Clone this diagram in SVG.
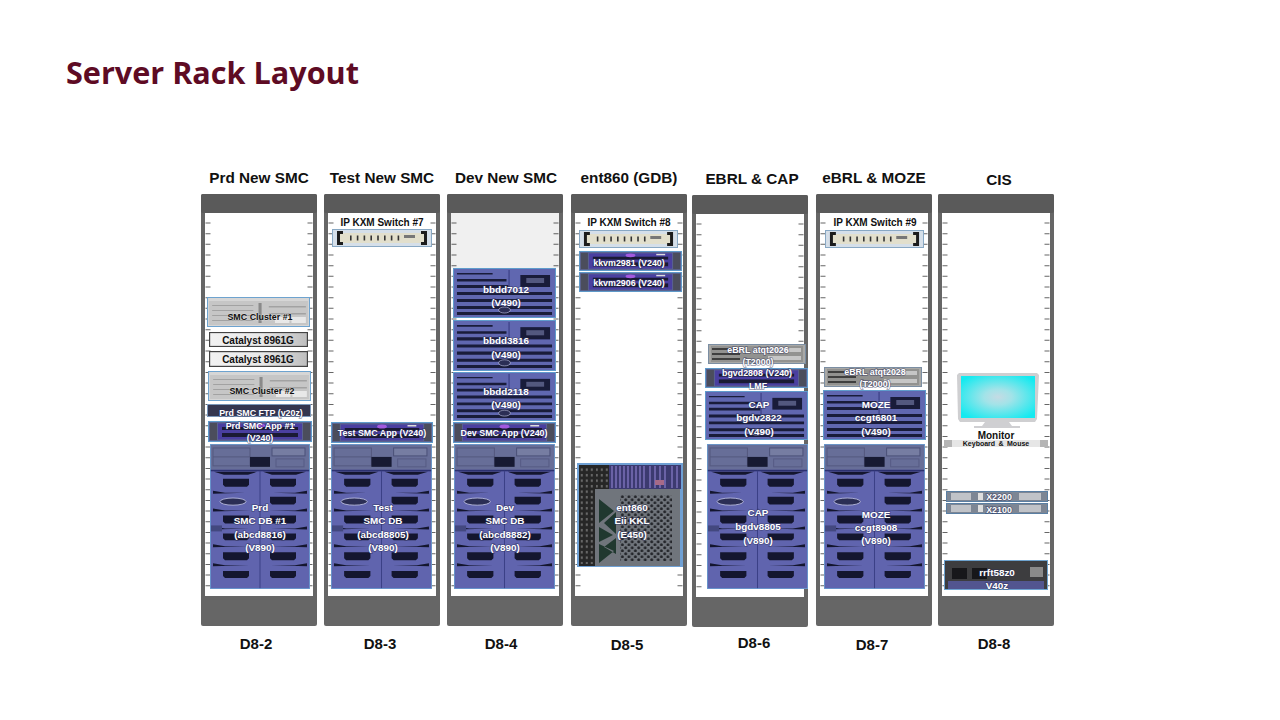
<svg xmlns="http://www.w3.org/2000/svg" width="1280" height="720" viewBox="0 0 1280 720">
<style>
text{font-family:"Liberation Sans",Arial,sans-serif;font-weight:700;text-anchor:middle}
.title{font-family:"Open Sans","Noto Sans",sans-serif;font-size:30.6px;fill:#5e0b24;text-anchor:start}
.hd{font-size:15.3px;fill:#111}
.loc{font-size:15px;fill:#111}
.w{font-size:9.9px;fill:#fff;stroke:#2b2e55;stroke-opacity:.5;stroke-width:1.5px;paint-order:stroke}
.s{font-size:8.9px}
.k{font-size:10px;fill:#111}
.g{font-size:8.9px;fill:#111;stroke:#fff;stroke-opacity:.35;stroke-width:1px;paint-order:stroke}
</style>
<defs>
<pattern id="holes" width="6.5" height="6" patternUnits="userSpaceOnUse"><circle cx="1.7" cy="1.7" r="1.5" fill="#25272c"/><circle cx="4.9" cy="4.7" r="1.5" fill="#25272c"/></pattern>
<pattern id="vents" width="5" height="5.5" patternUnits="userSpaceOnUse"><rect x=".8" y="1" width="2" height="2.4" fill="#6a6a6a"/></pattern>
<radialGradient id="scr" cx=".5" cy=".5" r=".62"><stop offset="0" stop-color="#c4dbe4"/><stop offset=".3" stop-color="#a2e3e8"/><stop offset="1" stop-color="#14eaf0"/></radialGradient>
<linearGradient id="catg" x1="0" x2="1" y1="0" y2="0"><stop offset="0" stop-color="#f2f2f2"/><stop offset=".55" stop-color="#e8e8e8"/><stop offset="1" stop-color="#bdbdbd"/></linearGradient>
<symbol id="rack" viewBox="0 0 116 432" preserveAspectRatio="none">
<rect width="116" height="432" rx="2" fill="#666"/>
<rect width="116" height="19" rx="2" fill="#5a5a5a"/>
<rect x="4" y="19" width="108" height="383" fill="#fff"/>
<line x1="7" y1="28.5" x2="7" y2="396" stroke="#666" stroke-width="5" stroke-dasharray="1 9.67"/>
<line x1="109" y1="28.5" x2="109" y2="396" stroke="#666" stroke-width="5" stroke-dasharray="1 9.67"/>
</symbol>
<symbol id="v890" viewBox="0 0 100 146" preserveAspectRatio="none">
<rect width="100" height="146" fill="#6064ae"/>
<rect width="100" height="26" fill="#676e98"/>
<rect x="3" y="4" width="37" height="18" fill="none" stroke="#54597f"/>
<rect x="3" y="12.5" width="37" height="1" fill="#54597f"/>
<rect x="62" y="4" width="33" height="8" fill="#767da2" stroke="#4b5078"/>
<rect x="40" y="13" width="20" height="10" fill="#171a33"/>
<rect x="66" y="15" width="28" height="8" fill="none" stroke="#565b84"/>
<rect y="26" width="100" height="1.5" fill="#2c3170"/>
<rect x="49.5" y="27" width="1" height="119" fill="#3b4086"/>
<g fill="#14162f">
<path d="M13 35h26v6l-2 2H15l-2-2zM60 35h26v6l-2 2H62l-2-2zM60 53h26v6l-2 2H62l-2-2zM13 72h26v6l-2 2H15l-2-2zM60 72h26v6l-2 2H62l-2-2zM13 90h26v5l-2 2H15l-2-2zM60 90h26v5l-2 2H62l-2-2zM13 109h26v6l-2 2H15l-2-2zM60 109h26v6l-2 2H62l-2-2zM13 128h26v5l-2 2H15l-2-2zM60 128h26v5l-2 2H62l-2-2z"/>
<path d="M4 28l10 3h24l9-3zM53 28l9 3h24l10-3zM3 47l12 2h20l-32 1zM97 47l-12 2h-22l34 1zM3 65l12 2h26l-38 1zM97 65l-12 2h-26l38 1zM3 83l12 2h24l-36 1zM97 83l-12 2h-24l36 1zM3 101l12 2h24l-36 1zM97 101l-12 2h-24l36 1zM3 120l12 2h24l-36 1zM97 120l-12 2h-24l36 1z"/>
</g>
<ellipse cx="23" cy="58" rx="13" ry="3.6" fill="#2b2e55" stroke="#c5c8e8" stroke-width=".8"/>
<rect x="1" y="82" width="11" height="6" fill="#43487f"/>
<rect x=".4" y=".4" width="99.2" height="145.2" fill="none" stroke="#6b9fd2" stroke-width=".8"/>
</symbol>
<symbol id="v490" viewBox="0 0 104 50" preserveAspectRatio="none">
<rect width="104" height="50" fill="#6067b0"/>
<g fill="#191c3a">
<path d="M4 5h36v1.5H4zM4 11h50v2.5H4zM4 17h52v3H4zM4 24h96v3H4zM4 31h96v3H4zM4 38h96v3H4zM4 44h96v3H4z"/>
<rect x="68" y="7" width="30" height="12"/>
</g>
<rect x="74" y="10" width="18" height="5" fill="#53587f"/>
<rect x="56" y="2" width="1.2" height="22" fill="#3b4086"/>
<ellipse cx="52" cy="42" rx="6" ry="3" fill="#2b2e55" stroke="#c5c8e8" stroke-width=".6"/>
<rect x=".5" y=".5" width="103" height="49" fill="none" stroke="#5f9ccc"/>
</symbol>
<symbol id="v240" viewBox="0 0 104 21" preserveAspectRatio="none">
<rect width="104" height="21" fill="#5a6390"/>
<rect x="2" y="2" width="7" height="17" fill="#4b4d5c"/>
<rect x="95" y="2" width="7" height="17" fill="#4b4d5c"/>
<rect x="10" y="2.5" width="84" height="16" fill="#4a3fa0"/>
<rect x="14" y="6" width="76" height="3" fill="#1a1a34"/>
<rect x="14" y="12" width="76" height="4" fill="#1a1a34"/>
<ellipse cx="52" cy="4.5" rx="5" ry="2" fill="#a25adf"/>
<rect x="78" y="3" width="9" height="1.5" fill="#ddd"/>
<rect x=".5" y=".5" width="103" height="20" fill="none" stroke="#5f9ccc"/>
</symbol>
<symbol id="srv" viewBox="0 0 100 30" preserveAspectRatio="none">
<rect width="100" height="30" fill="#d6d6d6"/>
<rect x="2" y="4" width="96" height="24" fill="#c6c6c6"/>
<g fill="#a2a2a2"><rect x="5" y="8" width="40" height="1"/><rect x="5" y="13" width="40" height="1"/><rect x="5" y="18" width="40" height="1"/><rect x="5" y="23" width="40" height="1"/><rect x="60" y="9" width="36" height="1.5"/><rect x="60" y="16" width="36" height="1.5"/></g>
<g fill="#e8e8e8"><rect x="66" y="20" width="14" height="6"/><rect x="82" y="20" width="14" height="6"/></g>
<rect x="50" y="6" width="3" height="20" fill="#8a8a8a"/>
<rect x=".5" y=".5" width="99" height="29" fill="none" stroke="#6ea3cf"/>
</symbol>
<symbol id="t2k" viewBox="0 0 98 20" preserveAspectRatio="none">
<rect width="98" height="20" fill="#a8a8a6"/>
<rect x="3" y="2" width="92" height="16" fill="#929290"/>
<g fill="#3f3f3f"><rect x="4" y="4" width="28" height="2"/><rect x="4" y="9" width="28" height="2"/><rect x="4" y="14" width="28" height="2"/></g>
<g fill="#c6c6c6"><rect x="60" y="4" width="33" height="4"/><rect x="60" y="12" width="33" height="4"/></g>
<rect x=".5" y=".5" width="97" height="19" fill="none" stroke="#7b8ea3"/>
</symbol>
<symbol id="kvm" viewBox="0 0 100 18" preserveAspectRatio="none">
<rect width="100" height="18" fill="#d5dfe9"/>
<rect x="6" y="4" width="88" height="10" fill="#e2dfcc"/>
<path d="M11 3.5H6.5V14.5H11M89 3.5h4.5V14.5H89" fill="none" stroke="#1c1c1c" stroke-width="3"/>
<line x1="18" y1="9" x2="68" y2="9" stroke="#333" stroke-width="5" stroke-dasharray="1.6 5.2"/>
<rect x="72" y="6" width="11" height="3" fill="#777"/>
<rect x=".5" y=".5" width="99" height="17" fill="none" stroke="#88a8c4"/>
</symbol>
<symbol id="cat" viewBox="0 0 100 16" preserveAspectRatio="none">
<rect width="100" height="16" fill="url(#catg)"/>
<rect x=".6" y=".6" width="98.8" height="14.8" fill="none" stroke="#444" stroke-width="1.2"/>
</symbol>
<symbol id="x2" viewBox="0 0 102 11" preserveAspectRatio="none">
<rect width="102" height="11" fill="#7d8694"/>
<rect x="5" y="2" width="20" height="7" fill="#c0c3c8"/>
<rect x="73" y="2" width="22" height="7" fill="#c0c3c8"/>
<rect x="32" y="2" width="5" height="7" fill="#dedede"/>
<rect x=".5" y=".5" width="101" height="10" fill="none" stroke="#5a7fa3"/>
</symbol>
</defs>
<rect width="1280" height="720" fill="#fff"/>
<text class="title" x="66" y="84">Server Rack Layout</text>

<g id="rack-d8-2">
<text class="hd" x="259" y="183">Prd New SMC</text>
<use href="#rack" x="201" y="194" width="116" height="432"/>
<text class="loc" x="256" y="649">D8-2</text>
</g>
<g id="rack-d8-3">
<text class="hd" x="382" y="183">Test New SMC</text>
<use href="#rack" x="324" y="194" width="116" height="432"/>
<text class="loc" x="380" y="649">D8-3</text>
</g>
<g id="rack-d8-4">
<text class="hd" x="506" y="183">Dev New SMC</text>
<use href="#rack" x="447" y="194" width="116" height="432"/>
<rect x="451" y="213" width="108" height="55" fill="#000" fill-opacity=".06"/>
<text class="loc" x="501" y="649">D8-4</text>
</g>
<g id="rack-d8-5">
<text class="hd" x="629" y="183">ent860 (GDB)</text>
<use href="#rack" x="571" y="194" width="116" height="432"/>
<text class="loc" x="627" y="650">D8-5</text>
</g>
<g id="rack-d8-6">
<text class="hd" x="752" y="184">EBRL &amp; CAP</text>
<use href="#rack" x="692" y="195" width="116" height="432"/>
<text class="loc" x="754" y="648">D8-6</text>
</g>
<g id="rack-d8-7">
<text class="hd" x="874" y="183">eBRL &amp; MOZE</text>
<use href="#rack" x="816" y="194" width="116" height="432"/>
<text class="loc" x="872" y="650">D8-7</text>
</g>
<g id="rack-d8-8">
<text class="hd" x="999" y="185">CIS</text>
<use href="#rack" x="938" y="194" width="116" height="432"/>
<text class="loc" x="994" y="649">D8-8</text>
</g>

<g id="smc-cluster-1"><use href="#srv" x="207" y="297" width="103" height="30"/><text class="g" x="260" y="320">SMC Cluster #1</text></g>
<g id="catalyst-1"><use href="#cat" x="209" y="332" width="99" height="15"/><text class="k" x="258" y="344">Catalyst 8961G</text></g>
<g id="catalyst-2"><use href="#cat" x="209" y="351" width="99" height="16"/><text class="k" x="258" y="363">Catalyst 8961G</text></g>
<g id="smc-cluster-2"><use href="#srv" x="208" y="371" width="103" height="30"/><text class="g" x="262" y="394">SMC Cluster #2</text></g>
<g id="prd-smc-ftp"><rect x="207.5" y="404.5" width="103" height="12" fill="#34364f" stroke="#7a97ba"/><text class="w s" x="261" y="416">Prd SMC FTP (v20z)</text></g>
<g id="prd-smc-app"><use href="#v240" x="208" y="421" width="104" height="21"/><text class="w s" x="260" y="429">Prd SMC App #1</text><text class="w s" x="260" y="441">(V240)</text></g>
<g id="prd-smc-db"><use href="#v890" x="210" y="444" width="100" height="145"/><text class="w" x="260" y="511">Prd</text><text class="w" x="260" y="524">SMC DB #1</text><text class="w" x="260" y="538">(abcd8816)</text><text class="w" x="260" y="551">(V890)</text></g>

<g id="kvm-switch-7"><text class="k" x="382" y="226">IP KXM Switch #7</text><use href="#kvm" x="332" y="229" width="100" height="18"/></g>
<g id="test-smc-app"><use href="#v240" x="331" y="422" width="102" height="21"/><text class="w s" x="382" y="436">Test SMC App (V240)</text></g>
<g id="test-smc-db"><use href="#v890" x="331" y="444" width="101" height="145"/><text class="w" x="383" y="511">Test</text><text class="w" x="383" y="524">SMC DB</text><text class="w" x="383" y="538">(abcd8805)</text><text class="w" x="383" y="551">(V890)</text></g>

<g id="bbdd7012"><use href="#v490" x="453" y="268" width="103" height="50"/><text class="w" x="506" y="293">bbdd7012</text><text class="w" x="506" y="306">(V490)</text></g>
<g id="bbdd3816"><use href="#v490" x="453" y="320" width="103" height="51"/><text class="w" x="506" y="344">bbdd3816</text><text class="w" x="506" y="358">(V490)</text></g>
<g id="bbdd2118"><use href="#v490" x="453" y="372" width="103" height="49"/><text class="w" x="506" y="395">bbdd2118</text><text class="w" x="506" y="408">(V490)</text></g>
<g id="dev-smc-app"><use href="#v240" x="453" y="422" width="103" height="21"/><text class="w s" x="504" y="436">Dev SMC App (V240)</text></g>
<g id="dev-smc-db"><use href="#v890" x="454" y="444" width="101" height="145"/><text class="w" x="505" y="511">Dev</text><text class="w" x="505" y="524">SMC DB</text><text class="w" x="505" y="538">(abcd8882)</text><text class="w" x="505" y="551">(V890)</text></g>

<g id="kvm-switch-8"><text class="k" x="629" y="226">IP KXM Switch #8</text><use href="#kvm" x="579" y="230" width="99" height="18"/></g>
<g id="kkvm2981"><use href="#v240" x="579" y="251" width="103" height="20"/><text class="w s" x="629" y="266">kkvm2981 (V240)</text></g>
<g id="kkvm2906"><use href="#v240" x="579" y="272" width="103" height="20"/><text class="w s" x="629" y="286">kkvm2906 (V240)</text></g>
<g id="ent860-e450">
<rect x="577" y="463" width="106" height="104" fill="#6fa0d4"/>
<rect x="579" y="465" width="30" height="101" fill="#262626"/>
<rect x="580" y="466" width="15" height="98" fill="url(#vents)"/>
<rect x="596" y="466" width="13" height="23" fill="url(#vents)"/>
<rect x="609" y="465" width="72" height="24" fill="#3c3a70"/>
<path d="M612 466V488M616 466V488M620 466V488M624 466V488M628 466V488M632 466V488M636 466V488M640 466V488M644 466V488M650 466V488M655 466V488M660 466V488M665 466V488M672 466V488M677 466V488" stroke="#7a70b8" stroke-width="1.5"/>
<rect x="655" y="480" width="9" height="5" fill="#a66a88"/>
<rect x="595" y="489" width="85" height="77" fill="#70757c"/>
<path d="M599 499l15 12-15 12zM599 544l15 7-15 12zM616 512l-12 11 12 11zM616 538l-12 9 12 7zM599 527l14 8-14 7z" fill="#20382f"/>
<rect x="620" y="495" width="52" height="66" fill="url(#holes)"/>
<text class="w" x="632" y="511">ent860</text><text class="w" x="632" y="524">Eii KKL</text><text class="w" x="632" y="538">(E450)</text>
</g>

<g id="kvm-switch-9"><text class="k" x="875" y="226">IP KXM Switch #9</text><use href="#kvm" x="825" y="230" width="99" height="18"/></g>
<g id="ebrl-atqt2026"><use href="#t2k" x="708" y="344" width="98" height="20"/><text class="w s" x="758" y="353">eBRL atqt2026</text><text class="w s" x="758" y="365">(T2000)</text></g>
<g id="bgvd2808"><use href="#v240" x="705" y="368" width="103" height="20"/><text class="w s" x="757" y="376">bgvd2808 (V240)</text><text class="w s" x="758" y="389">LMF</text></g>
<g id="bgdv2822"><use href="#v490" x="705" y="391" width="103" height="49"/><text class="w" x="759" y="408">CAP</text><text class="w" x="759" y="421">bgdv2822</text><text class="w" x="759" y="435">(V490)</text></g>
<g id="bgdv8805"><use href="#v890" x="707" y="444" width="101" height="145"/><text class="w" x="758" y="516">CAP</text><text class="w" x="758" y="530">bgdv8805</text><text class="w" x="758" y="544">(V890)</text></g>

<g id="ebrl-atqt2028"><use href="#t2k" x="824" y="367" width="98" height="20"/><text class="w s" x="875" y="375">eBRL atqt2028</text><text class="w s" x="875" y="387">(T2000)</text></g>
<g id="ccgt6801"><use href="#v490" x="823" y="390" width="103" height="50"/><text class="w" x="876" y="408">MOZE</text><text class="w" x="876" y="421">ccgt6801</text><text class="w" x="876" y="435">(V490)</text></g>
<g id="ccgt8908"><use href="#v890" x="824" y="444" width="101" height="145"/><text class="w" x="876" y="518">MOZE</text><text class="w" x="876" y="531">ccgt8908</text><text class="w" x="876" y="544">(V890)</text></g>

<g id="monitor">
<path d="M959 373h78l2 2-2 44 -2 3H960l-2-3-1-44z" fill="#cfcfd1"/>
<rect x="961" y="376" width="74" height="42" fill="url(#scr)"/>
<path d="M985 422h24l3 4h8v2h-46v-2h8z" fill="#cfcfd2"/>
<text class="k" x="996" y="439">Monitor</text>
</g>
<g id="keyboard-mouse"><rect x="944" y="440" width="104" height="7" fill="#e6e6e6"/><rect x="944" y="440" width="8" height="7" fill="#b5b5b5"/><rect x="1040" y="440" width="8" height="7" fill="#b5b5b5"/><text x="996" y="446" style="font-size:7px;fill:#111;word-spacing:1.5px">Keyboard &amp; Mouse</text></g>
<g id="x2200"><use href="#x2" x="946" y="491" width="102" height="11"/><text class="w s" x="999" y="500">X2200</text></g>
<g id="x2100"><use href="#x2" x="946" y="503" width="102" height="11"/><text class="w s" x="999" y="513">X2100</text></g>
<g id="rrft58z0">
<rect x="944.5" y="560.5" width="103" height="29" fill="#3d3d3f" stroke="#6ea3cf"/>
<rect x="948" y="581" width="96" height="8" fill="#52558f"/>
<rect x="952" y="568" width="15" height="11" fill="#17171a"/><rect x="972" y="568" width="15" height="11" fill="#17171a"/><rect x="1030" y="567" width="13" height="10" fill="#8a8a8a"/>
<text class="w" x="997" y="576">rrft58z0</text><text class="w" x="997" y="589">V40z</text>
</g>
</svg>
